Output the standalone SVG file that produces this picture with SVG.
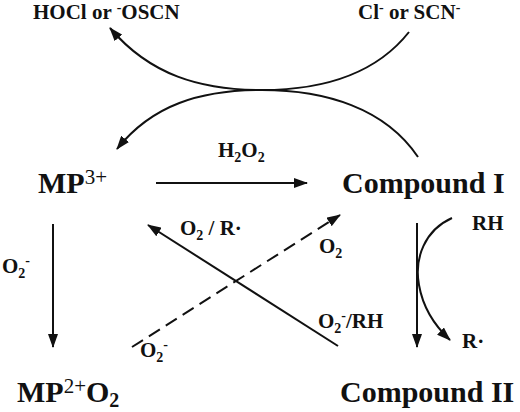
<svg xmlns="http://www.w3.org/2000/svg" width="520" height="412" viewBox="0 0 520 412" font-family="Liberation Serif, DejaVu Serif, serif">
<style>
  text { font-weight: bold; fill: #111; }
  .big { font-size: 30px; }
  .lab { font-size: 21px; }
  .top { font-size: 21px; }
  .sub { font-size: 14px; }
  .sup { font-size: 14px; }
  .sup3 { font-size: 21px; font-weight: normal; }
  .ln { fill: none; stroke: #111; stroke-width: 2; }
  .dash { stroke-dasharray: 13 7; }
</style>
<defs>
  <marker id="ah" viewBox="0 0 14 10" refX="13" refY="5" markerWidth="14" markerHeight="10" markerUnits="userSpaceOnUse" orient="auto">
    <path d="M0,0 L14,5 L0,10 Z" fill="#111"/>
  </marker>
</defs>
<rect width="520" height="412" fill="#fff"/>

<g id="hocl"><text class="top" x="33" y="19">HOCl or <tspan class="sup" dy="-7">-</tspan><tspan dy="7">OSCN</tspan></text></g>
<g id="cl"><text class="top" x="358" y="19">Cl<tspan class="sup" dy="-7">-</tspan><tspan dy="7"> or SCN</tspan><tspan class="sup" dy="-7">-</tspan></text></g>
<g id="mp3"><text class="big" x="38" y="193">MP<tspan class="sup3" dy="-9">3+</tspan></text></g>
<g id="compound1"><text class="big" x="342" y="193">Compound I</text></g>
<g id="mp2o2"><text class="big" x="17" y="402">MP<tspan class="sup3" dy="-9">2+</tspan><tspan dy="9">O</tspan><tspan style="font-size:20px" dy="5">2</tspan></text></g>
<g id="compound2"><text class="big" x="340" y="402">Compound II</text></g>

<g id="connectors">
  <path class="ln" marker-end="url(#ah)" d="M409,32 C375,75 320,90 262,90 C200,90 150,75 110,28"/>
  <path class="ln" marker-end="url(#ah)" d="M418,157 C385,108 325,90 262,90 C200,90 152,105 117,149"/>
  <line class="ln" marker-end="url(#ah)" x1="156" y1="183" x2="307" y2="183"/>
  <line class="ln" marker-end="url(#ah)" x1="53" y1="224" x2="53" y2="347"/>
  <line class="ln" marker-end="url(#ah)" x1="417" y1="223" x2="417" y2="347"/>
  <path class="ln" marker-end="url(#ah)" d="M452,218 C425,230 414,258 419,285 C423,308 435,326 450,340"/>
  <line class="ln" marker-end="url(#ah)" x1="338" y1="346" x2="148" y2="225"/>
  <line class="ln dash" marker-end="url(#ah)" x1="132" y1="347" x2="340" y2="215"/>

  <text class="lab" x="218" y="157">H<tspan class="sub" dy="5">2</tspan><tspan dy="-5">O</tspan><tspan class="sub" dy="5">2</tspan></text>
  <text class="lab" x="2" y="273">O<tspan class="sub" dy="5">2</tspan><tspan class="sup" dy="-13">-</tspan></text>
  <text class="lab" x="180" y="235">O<tspan class="sub" dy="5">2</tspan><tspan dy="-5"> / R·</tspan></text>
  <text class="lab" x="319" y="253">O<tspan class="sub" dy="5">2</tspan></text>
  <text class="lab" x="140" y="357">O<tspan class="sub" dy="5">2</tspan><tspan class="sup" dy="-13">-</tspan></text>
  <text class="lab" x="318" y="328">O<tspan class="sub" dy="5">2</tspan><tspan class="sup" dy="-13">-</tspan><tspan dy="8">/RH</tspan></text>
  <text class="lab" x="472" y="230">RH</text>
  <text class="lab" x="462" y="348">R·</text>
</g>
</svg>
